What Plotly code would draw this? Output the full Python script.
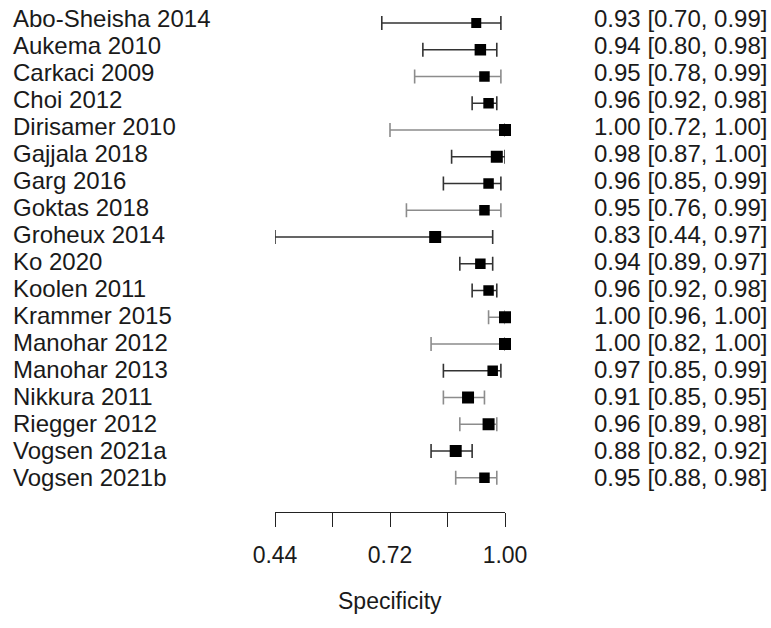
import plotly.graph_objects as go

studies = ["Abo-Sheisha 2014", "Aukema 2010", "Carkaci 2009", "Choi 2012", "Dirisamer 2010",
           "Gajjala 2018", "Garg 2016", "Goktas 2018", "Groheux 2014", "Ko 2020", "Koolen 2011",
           "Krammer 2015", "Manohar 2012", "Manohar 2013", "Nikkura 2011", "Riegger 2012",
           "Vogsen 2021a", "Vogsen 2021b"]
spec = [0.93, 0.94, 0.95, 0.96, 1.00, 0.98, 0.96, 0.95, 0.83, 0.94, 0.96, 1.00, 1.00, 0.97, 0.91, 0.96, 0.88, 0.95]
lower = [0.70, 0.80, 0.78, 0.92, 0.72, 0.87, 0.85, 0.76, 0.44, 0.89, 0.92, 0.96, 0.82, 0.85, 0.85, 0.89, 0.82, 0.88]
upper = [0.99, 0.98, 0.99, 0.98, 1.00, 1.00, 0.99, 0.99, 0.97, 0.97, 0.98, 1.00, 1.00, 0.99, 0.95, 0.98, 0.92, 0.98]
weights = [10, 11.5, 10.5, 10.5, 12, 12, 10.5, 10.5, 12, 10.5, 10.5, 12, 12, 10.5, 12, 12, 12, 10.5]
shade = [0, 0, 1, 0, 1, 0, 0, 1, 0, 0, 0, 1, 1, 0, 1, 1, 0, 1]
tick_vals = [0.44, 0.58, 0.72, 0.86, 1.00]
tick_text = ["0.44", "", "0.72", "", "1.00"]

W, H = 771, 628
L, R_, B = 275, 505, 628 - 512
n = len(studies)
row0, drow = 23.0, 26.75
y_top = -row0 / drow
y_bot = (512 - row0) / drow

line_cols = ["#333333", "#8c8c8c"]

fig = go.Figure()
for i in range(n):
    col = line_cols[shade[i]]
    fig.add_trace(go.Scatter(
        x=[spec[i]], y=[i], mode="markers",
        marker=dict(symbol="square", size=weights[i], color="black", line=dict(width=0)),
        error_x=dict(type="data", symmetric=False,
                     array=[upper[i] - spec[i]], arrayminus=[spec[i] - lower[i]],
                     color=col, thickness=1.6, width=7),
        cliponaxis=False, showlegend=False, hoverinfo="skip"))

def xp(px):
    return (px - L) / (R_ - L)

def yp(py):
    return (512 - py) / 512

FONT = "Liberation Sans, Arial, Helvetica, sans-serif"
ann = []
for i in range(n):
    ty = 18.5 + 27.0 * i
    ann.append(dict(x=xp(11), y=yp(ty), xref="paper", yref="paper", text=studies[i],
                    showarrow=False, xanchor="left", yanchor="middle",
                    font=dict(family=FONT, size=24, color="#1a1a1a")))
    ann.append(dict(x=xp(592), y=yp(ty), xref="paper", yref="paper",
                    text=f"{spec[i]:.2f} [{lower[i]:.2f}, {upper[i]:.2f}]",
                    showarrow=False, xanchor="left", yanchor="middle",
                    font=dict(family=FONT, size=24, color="#1a1a1a")))
ann.append(dict(x=xp(390), y=yp(601), xref="paper", yref="paper", text="Specificity",
                showarrow=False, xanchor="center", yanchor="middle",
                font=dict(family=FONT, size=23, color="#1a1a1a")))

fig.update_layout(
    width=W, height=H,
    margin=dict(l=L, r=W - R_, t=0, b=B, pad=0),
    paper_bgcolor="white", plot_bgcolor="white",
    xaxis=dict(range=[0.44, 1.00], showgrid=False, zeroline=False, showline=True,
               linecolor="#222", linewidth=1, ticks="outside", ticklen=14, tickwidth=1,
               tickcolor="#222", tickvals=tick_vals, ticktext=tick_text, ticklabelstandoff=8,
               tickfont=dict(family=FONT, size=23, color="#1a1a1a")),
    yaxis=dict(range=[y_bot, y_top], showgrid=False, zeroline=False, showline=False,
               showticklabels=False, ticks=""),
    annotations=ann,
)
fig.write_html("out.html")
